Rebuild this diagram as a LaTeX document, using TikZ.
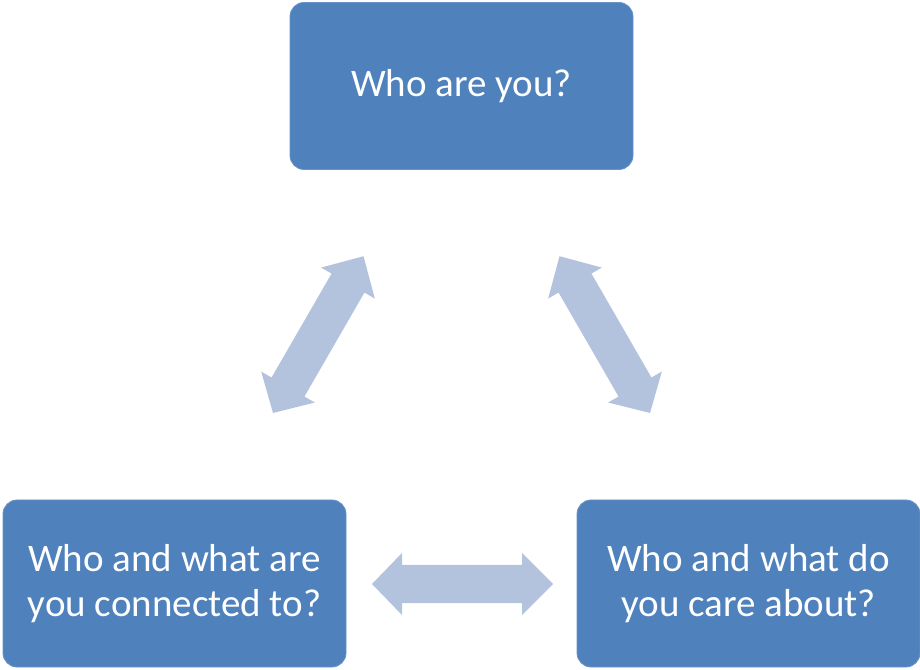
\documentclass[tikz,border=0pt]{standalone}
\usepackage{fontspec}
\setmainfont{Carlito}
\definecolor{boxblue}{HTML}{4F81BD}
\definecolor{arrowblue}{HTML}{B3C3DE}
\tikzset{
  qbox/.style={fill=boxblue, draw=boxblue!85!white, line width=0.8pt, rounded corners=14pt,
    minimum width=343pt, minimum height=167pt, align=center, text=white,
    font=\fontsize{39}{45}\selectfont, inner sep=0pt},
  dblarr/.pic={\fill[arrowblue] (0,0) -- (30,31) -- (30,19) -- (150,19) -- (150,31) -- (181,0)
     -- (150,-31) -- (150,-19) -- (30,-19) -- (30,-31) -- cycle;}
}
\begin{document}
\begin{tikzpicture}[x=1pt,y=1pt]
\useasboundingbox (0,0) rectangle (920,669);
\node[qbox] (top) at (461.5,583) {Who are you?};
\node[qbox] (left) at (174.5,85.5) {Who and what are\\you connected to?};
\node[qbox] (right) at (748.5,85.5) {Who and what do\\you care about?};
\coordinate (la) at (273,256);
\coordinate (ra) at (650,256);
\coordinate (ha) at (372,85);
\pic[rotate=60] at (la) {dblarr};
\pic[rotate=120] at (ra) {dblarr};
\pic at (ha) {dblarr};
\end{tikzpicture}
\end{document}
